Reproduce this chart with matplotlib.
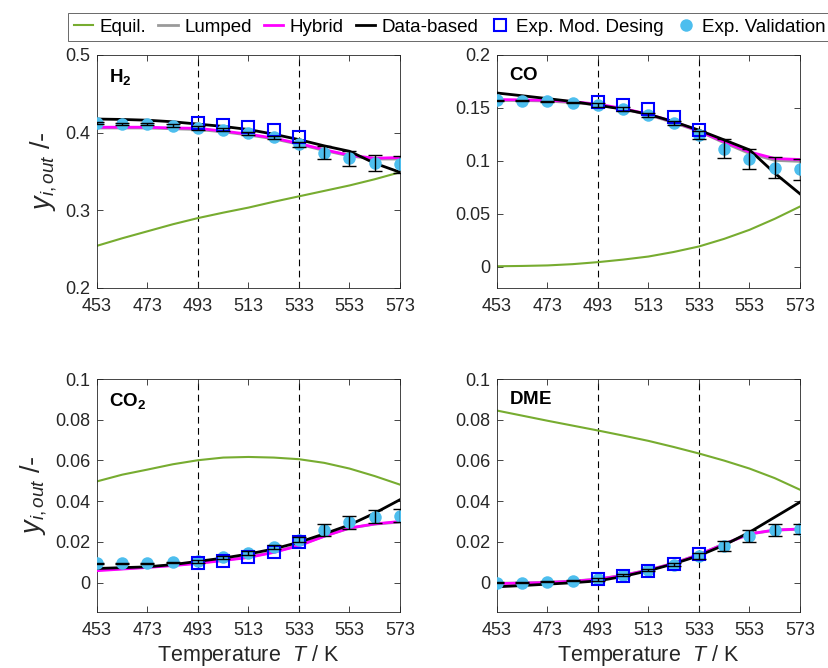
import matplotlib
matplotlib.use('Agg')
import matplotlib.pyplot as plt
from matplotlib.lines import Line2D

plt.rcParams['font.family'] = ['Liberation Sans', 'DejaVu Sans']
plt.rcParams['mathtext.fontset'] = 'custom'
plt.rcParams['mathtext.rm'] = 'Liberation Sans'
plt.rcParams['mathtext.it'] = 'Liberation Sans:italic'
plt.rcParams['mathtext.bf'] = 'Liberation Sans:bold'

# Temperatures [K]
temps = [453, 463, 473, 483, 493, 503, 513, 523, 533, 543, 553, 563, 573]
design_temps = [493, 503, 513, 523, 533]

# H2
h2_equil = [0.2543, 0.264, 0.273, 0.282, 0.290, 0.297, 0.3035, 0.311, 0.318, 0.325, 0.332, 0.340, 0.349]
h2_lumped = [0.406, 0.406, 0.406, 0.405, 0.404, 0.401, 0.397, 0.392, 0.385, 0.377, 0.370, 0.366, 0.366]
h2_hybrid = [0.407, 0.407, 0.407, 0.406, 0.4056, 0.402, 0.398, 0.393, 0.386, 0.378, 0.371, 0.367, 0.368]
h2_data = [0.4175, 0.417, 0.416, 0.414, 0.411, 0.408, 0.404, 0.398, 0.391, 0.383, 0.376, 0.3606, 0.349]
h2_valid = [0.412, 0.411, 0.411, 0.409, 0.406, 0.404, 0.399, 0.394, 0.385, 0.374, 0.367, 0.361, 0.359]
h2_valid_err = [0.0015, 0.0015, 0.0015, 0.0015, 0.003, 0.002, 0.002, 0.002, 0.003, 0.0085, 0.010, 0.010, 0.011]
h2_design = [0.412, 0.410, 0.407, 0.403, 0.395]

# CO
co_equil = [0.0005, 0.0008, 0.0013, 0.0025, 0.0044, 0.0068, 0.0097, 0.014, 0.0192, 0.0264, 0.0349, 0.0453, 0.0569]
co_lumped = [0.157, 0.157, 0.1565, 0.155, 0.153, 0.149, 0.1435, 0.136, 0.128, 0.117, 0.107, 0.1005, 0.0995]
co_hybrid = [0.1579, 0.1576, 0.1572, 0.156, 0.1535, 0.1495, 0.144, 0.137, 0.1283, 0.118, 0.1085, 0.1022, 0.1013]
co_data = [0.1641, 0.1615, 0.1588, 0.156, 0.1525, 0.1488, 0.144, 0.137, 0.129, 0.1198, 0.1104, 0.0884, 0.0689]
co_valid = [0.1572, 0.157, 0.1563, 0.1547, 0.1525, 0.1487, 0.1431, 0.1355, 0.1242, 0.1113, 0.1016, 0.0937, 0.0921]
co_valid_err = [0.0005, 0.0005, 0.0005, 0.0005, 0.002, 0.002, 0.002, 0.002, 0.004, 0.009, 0.0097, 0.010, 0.010]
co_design = [0.1557, 0.153, 0.1487, 0.1415, 0.129]

# CO2
co2_equil = [0.0497, 0.053, 0.0555, 0.0581, 0.0601, 0.0614, 0.0617, 0.0614, 0.0606, 0.0588, 0.056, 0.0523, 0.0481]
co2_lumped = [0.0062, 0.0068, 0.0076, 0.0085, 0.0096, 0.011, 0.0125, 0.0150, 0.0183, 0.0228, 0.0267, 0.0287, 0.0297]
co2_hybrid = [0.0058, 0.0066, 0.0074, 0.0083, 0.0094, 0.0108, 0.0123, 0.0148, 0.0181, 0.0227, 0.0268, 0.0288, 0.030]
co2_data = [0.0069, 0.0073, 0.0077, 0.0088, 0.0104, 0.012, 0.014, 0.0165, 0.0198, 0.0239, 0.0283, 0.0341, 0.0407]
co2_valid = [0.0094, 0.0094, 0.0094, 0.0099, 0.0104, 0.0123, 0.0143, 0.0173, 0.0211, 0.0258, 0.0295, 0.0324, 0.0329]
co2_valid_err = [0.0003, 0.0003, 0.0003, 0.0003, 0.0008, 0.0008, 0.001, 0.001, 0.0012, 0.003, 0.0032, 0.003, 0.003]
co2_design = [0.0095, 0.0107, 0.0123, 0.0151, 0.0198]

# DME
dme_equil = [0.0845, 0.082, 0.0795, 0.0771, 0.0747, 0.0722, 0.0696, 0.0666, 0.0634, 0.0599, 0.056, 0.0513, 0.0456]
dme_lumped = [-0.0004, -0.0002, 0.0001, 0.0007, 0.0017, 0.0036, 0.0062, 0.0095, 0.0138, 0.0190, 0.0238, 0.0257, 0.0262]
dme_hybrid = [-0.0005, -0.0003, 0.0, 0.0006, 0.0016, 0.0035, 0.0061, 0.0094, 0.0137, 0.0189, 0.0239, 0.0258, 0.0263]
dme_data = [-0.0021, -0.0015, -0.0008, -0.0001, 0.0008, 0.003, 0.0058, 0.0092, 0.0132, 0.0184, 0.0247, 0.0321, 0.0395]
dme_valid = [0.0, 0.0, 0.0003, 0.0008, 0.0016, 0.0036, 0.0061, 0.0087, 0.0132, 0.0181, 0.0227, 0.0258, 0.0263]
dme_valid_err = [0.0002, 0.0002, 0.0002, 0.0002, 0.0008, 0.0005, 0.0006, 0.0008, 0.0015, 0.0025, 0.003, 0.0028, 0.0025]
dme_design = [0.0016, 0.0033, 0.0058, 0.009, 0.014]

# Axis settings
xticks = [453, 473, 493, 513, 533, 553, 573]
h2_yticks = [0.2, 0.3, 0.4, 0.5]
h2_ylabels = ['0.2', '0.3', '0.4', '0.5']
co_yticks = [0, 0.05, 0.1, 0.15, 0.2]
co_ylabels = ['0', '0.05', '0.1', '0.15', '0.2']
small_yticks = [0, 0.02, 0.04, 0.06, 0.08, 0.1]
small_ylabels = ['0', '0.02', '0.04', '0.06', '0.08', '0.1']
dashed_temps = [493, 533]

c_equil = '#77AC30'
c_lumped = '#9a9a9a'
c_hybrid = '#FF00FF'
c_data = 'black'
c_design = '#0000FF'
c_valid = '#4DBEEE'
c_text = '#262626'

fig = plt.figure(figsize=(8.29, 6.68), dpi=100)

positions = [
    [0.1170, 0.5689, 0.3655, 0.3488],
    [0.5995, 0.5689, 0.3655, 0.3488],
    [0.1170, 0.0838, 0.3655, 0.3488],
    [0.5995, 0.0838, 0.3655, 0.3488],
]

panels = [
    (r'$\mathbf{H_2}$', h2_equil, h2_lumped, h2_hybrid, h2_data, h2_valid, h2_valid_err, h2_design,
     (0.2, 0.5), h2_yticks, h2_ylabels),
    (r'$\mathbf{CO}$', co_equil, co_lumped, co_hybrid, co_data, co_valid, co_valid_err, co_design,
     (-0.02, 0.2), co_yticks, co_ylabels),
    (r'$\mathbf{CO_2}$', co2_equil, co2_lumped, co2_hybrid, co2_data, co2_valid, co2_valid_err, co2_design,
     (-0.0145, 0.1), small_yticks, small_ylabels),
    (r'$\mathbf{DME}$', dme_equil, dme_lumped, dme_hybrid, dme_data, dme_valid, dme_valid_err, dme_design,
     (-0.0145, 0.1), small_yticks, small_ylabels),
]

for k, (name, eq, lum, hyb, dat, val, err, des, ylim, yt, yl) in enumerate(panels):
    ax = fig.add_axes(positions[k])
    for t in dashed_temps:
        ax.axvline(t, color='black', linestyle=(0, (6, 4)), linewidth=0.8, zorder=1)
    ax.plot(temps, eq, color=c_equil, linewidth=1.5, zorder=2)
    ax.plot(temps, lum, color=c_lumped, linewidth=2.0, zorder=2)
    ax.plot(temps, hyb, color=c_hybrid, linewidth=2.0, zorder=3)
    ax.plot(temps, dat, color=c_data, linewidth=2.0, zorder=4)
    ax.plot(temps, val, 'o', color=c_valid, markersize=9, markeredgewidth=0, zorder=5)
    ax.plot(design_temps, des, 's', markerfacecolor='none', markeredgecolor=c_design,
            markersize=9, markeredgewidth=1.5, zorder=6)
    ax.errorbar(temps, val, yerr=err, fmt='none', ecolor='black', elinewidth=1.0,
                capsize=5, capthick=1.0, zorder=7)

    ax.set_xlim(453, 573)
    ax.set_ylim(*ylim)
    ax.set_xticks(xticks)
    ax.set_yticks(yt)
    ax.set_yticklabels(yl)
    ax.tick_params(direction='in', top=True, right=True, labelsize=13,
                   colors=c_text, length=4, width=0.6)
    ax.tick_params(axis='y', pad=5)
    ax.tick_params(axis='x', pad=7)
    for s in ax.spines.values():
        s.set_color('#262626')
        s.set_linewidth(0.6)
    ax.text(0.04, 0.95, name, transform=ax.transAxes, fontsize=13.5,
            va='top', ha='left', color='black')
    if k % 2 == 0:
        ax.set_ylabel(r'$y_{i,out}$ /-', fontsize=19.5, color=c_text, labelpad=4)
    if k >= 2:
        ax.set_xlabel(r'Temperature  $T$ / K', fontsize=15.5, color=c_text, labelpad=3)

handles = [
    Line2D([], [], color=c_equil, linewidth=1.5),
    Line2D([], [], color=c_lumped, linewidth=2.0),
    Line2D([], [], color=c_hybrid, linewidth=2.0),
    Line2D([], [], color=c_data, linewidth=2.0),
    Line2D([], [], linestyle='none', marker='s', markerfacecolor='none',
           markeredgecolor=c_design, markersize=9, markeredgewidth=1.5),
    Line2D([], [], linestyle='none', marker='o', color=c_valid, markersize=9,
           markeredgewidth=0),
]
labels = ['Equil.', 'Lumped', 'Hybrid', 'Data-based', 'Exp. Mod. Desing', 'Exp. Validation']
leg = fig.legend(handles, labels, ncol=6, loc='upper left', bbox_to_anchor=(68 / 829, 1 - 13 / 668),
                 fontsize=13.5, frameon=True, fancybox=False, handlelength=1.05,
                 handletextpad=0.35, columnspacing=0.62, borderpad=0.3, borderaxespad=0)
leg.get_frame().set_edgecolor('#262626')
leg.get_frame().set_linewidth(0.6)

fig.savefig('out.png', dpi=100)
